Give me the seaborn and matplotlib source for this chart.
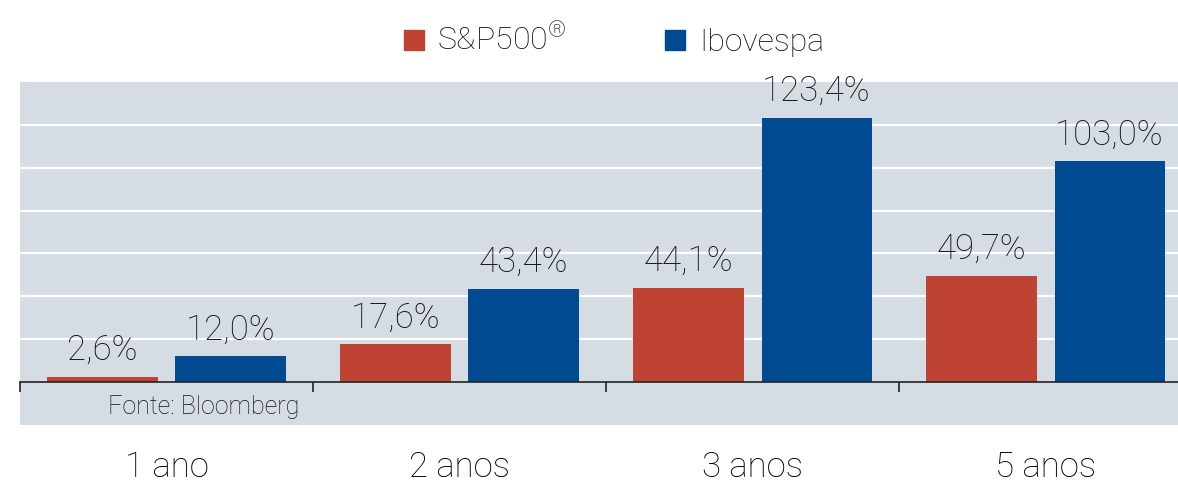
import matplotlib
matplotlib.use("Agg")
import matplotlib.pyplot as plt
from matplotlib.lines import Line2D
from matplotlib.ticker import FixedLocator
import pandas as pd
import seaborn as sns

periodos = ["1 ano", "2 anos", "3 anos", "5 anos"]
sp500 = [2.6, 17.6, 44.1, 49.7]
ibovespa = [12.0, 43.4, 123.4, 103.0]
series = ["S&P500$^{®}$", "Ibovespa"]
cores = ["#BE4332", "#004A91"]
fonte = "Fonte: Bloomberg"

df = pd.DataFrame({
    "periodo": periodos * 2,
    "valor": sp500 + ibovespa,
    "indice": [series[0]] * 4 + [series[1]] * 4,
})

plt.rcParams["font.family"] = ["Roboto", "DejaVu Sans"]
plt.rcParams["font.weight"] = "light"
plt.rcParams["text.color"] = "#111111"
plt.rcParams["mathtext.fontset"] = "custom"
plt.rcParams["mathtext.rm"] = "Roboto:light"
plt.rcParams["mathtext.it"] = "Roboto:light"

fig = plt.figure(figsize=(11.78, 4.82), dpi=100)
ax = fig.add_axes([20 / 1178, 1 - 425 / 482, 1 - 20 / 1178, 343 / 482])
ax.set_facecolor("#D6DCE4")

sns.barplot(data=df, x="periodo", y="valor", hue="indice", palette=cores,
            width=0.874, gap=0.14, saturation=1, legend=False, ax=ax)

for cont in ax.containers:
    ax.bar_label(cont, labels=[f"{v:.1f}%".replace(".", ",") for v in cont.datavalues],
                 padding=7, fontsize=25, fontweight="light")

ax.set_ylim(-20, 140)
ax.set_xlim(-0.5, 3.452)
ax.set_yticks([20, 40, 60, 80, 100, 120])
ax.yaxis.grid(True, color="white", linewidth=1.6)
ax.set_axisbelow(True)
ax.tick_params(axis="y", left=False, labelleft=False)

for s in ["top", "right", "left"]:
    ax.spines[s].set_visible(False)
ax.spines["bottom"].set_position(("data", 0))
ax.spines["bottom"].set_color("#222222")
ax.spines["bottom"].set_linewidth(1.2)

ax.xaxis.set_minor_locator(FixedLocator([-0.5, 0.5, 1.5, 2.5]))
ax.tick_params(axis="x", which="minor", length=7, width=1.2, color="#222222", direction="out")
ax.tick_params(axis="x", which="major", length=0, pad=49, labelsize=25)
ax.set_xlabel("")
ax.set_ylabel("")

ax.text(0.076, 0.032, fonte, transform=ax.transAxes, fontsize=18,
        fontweight="light", va="baseline", ha="left")

handles = [Line2D([], [], marker="s", linestyle="none", markersize=14,
                  markerfacecolor=c, markeredgecolor=c) for c in cores]
fig.legend(handles, series, loc="center", bbox_to_anchor=(0.52, 0.917), ncol=2,
           frameon=False, fontsize=23, handletextpad=0.35, columnspacing=3.0,
           handlelength=0.8)

fig.savefig("out.png", dpi=100)
